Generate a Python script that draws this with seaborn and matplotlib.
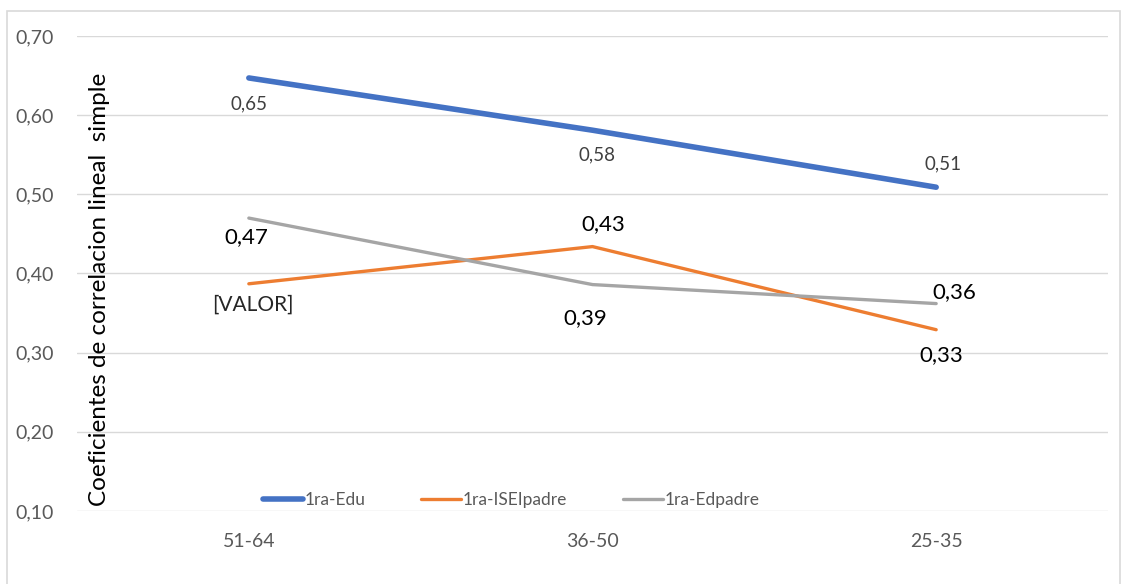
import matplotlib
matplotlib.use("Agg")
import matplotlib.pyplot as plt
import matplotlib.ticker as mticker
from matplotlib.patches import Rectangle
import seaborn as sns
import pandas as pd

# data
categories = ["51-64", "36-50", "25-35"]
edu = [0.647, 0.581, 0.509]
isei_padre = [0.387, 0.434, 0.329]
ed_padre = [0.470, 0.386, 0.362]
series_names = ["1ra-Edu", "1ra-ISEIpadre", "1ra-Edpadre"]
point_labels = {
    "1ra-Edu": ["0,65", "0,58", "0,51"],
    "1ra-ISEIpadre": ["[VALOR]", "0,43", "0,33"],
    "1ra-Edpadre": ["0,47", "0,39", "0,36"],
}
y_ticks = [0.1, 0.2, 0.3, 0.4, 0.5, 0.6, 0.7]

sns.set_theme(style="white")
plt.rcParams["font.family"] = ["Lato", "DejaVu Sans"]

rows = []
for name, vals in zip(series_names, [edu, isei_padre, ed_padre]):
    for i, (c, v) in enumerate(zip(categories, vals)):
        rows.append({"grupo": c, "pos": i, "valor": v, "serie": name})
df = pd.DataFrame(rows)

colors = {"1ra-Edu": "#4472C4", "1ra-ISEIpadre": "#ED7D31", "1ra-Edpadre": "#A5A5A5"}
widths = {"1ra-Edu": 4.0, "1ra-ISEIpadre": 2.4, "1ra-Edpadre": 2.4}

fig = plt.figure(figsize=(11.28, 5.84), dpi=100)
ax = fig.add_axes([77 / 1128, 73 / 584, (1108 - 77) / 1128, (511 - 36) / 584])

sns.lineplot(data=df, x="pos", y="valor", hue="serie", palette=colors,
             hue_order=series_names, ax=ax, legend=False)
for line, name in zip(ax.get_lines(), series_names):
    line.set_linewidth(widths[name])
    line.set_solid_capstyle("round")

ax.set_xlim(-0.5, 2.5)
ax.set_ylim(0.1, 0.7)
ax.set_yticks(y_ticks)
ax.yaxis.set_major_formatter(mticker.FuncFormatter(lambda v, p: f"{v:.2f}".replace(".", ",")))
ax.set_xticks(range(len(categories)))
ax.set_xticklabels(categories)
ax.grid(axis="y", color="#D9D9D9", linewidth=1)
ax.set_axisbelow(True)
for s in ax.spines.values():
    s.set_visible(False)
ax.tick_params(axis="y", length=0, pad=17, labelsize=14, labelcolor="#595959")
ax.tick_params(axis="x", length=0, pad=16, labelsize=14, labelcolor="#595959")
ax.set_xlabel("")
ax.set_ylabel("")

# data labels: (dx, dy) in points, size, colour
label_style = {
    "1ra-Edu": [((0, -19), 13.5, "#404040"), ((3, -18), 13.5, "#404040"), ((5, 17), 13.5, "#404040")],
    "1ra-ISEIpadre": [((3, -15), 15, "#262626"), ((8, 16), 16, "black"), ((4, -18), 16, "black")],
    "1ra-Edpadre": [((-2, -14), 16, "black"), ((-5, -24), 16, "black"), ((13, 8), 16, "black")],
}
for name, vals in zip(series_names, [edu, isei_padre, ed_padre]):
    for i, v in enumerate(vals):
        (dx, dy), size, col = label_style[name][i]
        ax.annotate(point_labels[name][i], (i, v), xytext=(dx, dy), textcoords="offset points",
                    ha="center", va="center", fontsize=size, color=col)

fig.text(100 / 1128, 1 - 289 / 584, "Coeficientes de correlacion lineal  simple",
         rotation=90, ha="center", va="center", fontsize=17.5, color="black")

handles = [plt.Line2D([], [], color=colors[n], linewidth=widths[n], solid_capstyle="round")
           for n in series_names]
fig.legend(handles, series_names, loc="center", bbox_to_anchor=(511 / 1128, 1 - 500 / 584),
           ncol=3, frameon=False, fontsize=12.5, labelcolor="#595959",
           handlelength=2.3, handletextpad=0.1, columnspacing=3.2)

fig.patches.append(Rectangle((7 / 1128, -0.05), (1120 - 7) / 1128, 1 - 11 / 584 + 0.05,
                             transform=fig.transFigure, fill=False,
                             edgecolor="#D9D9D9", linewidth=1.2))

fig.savefig("out.png", dpi=100)
